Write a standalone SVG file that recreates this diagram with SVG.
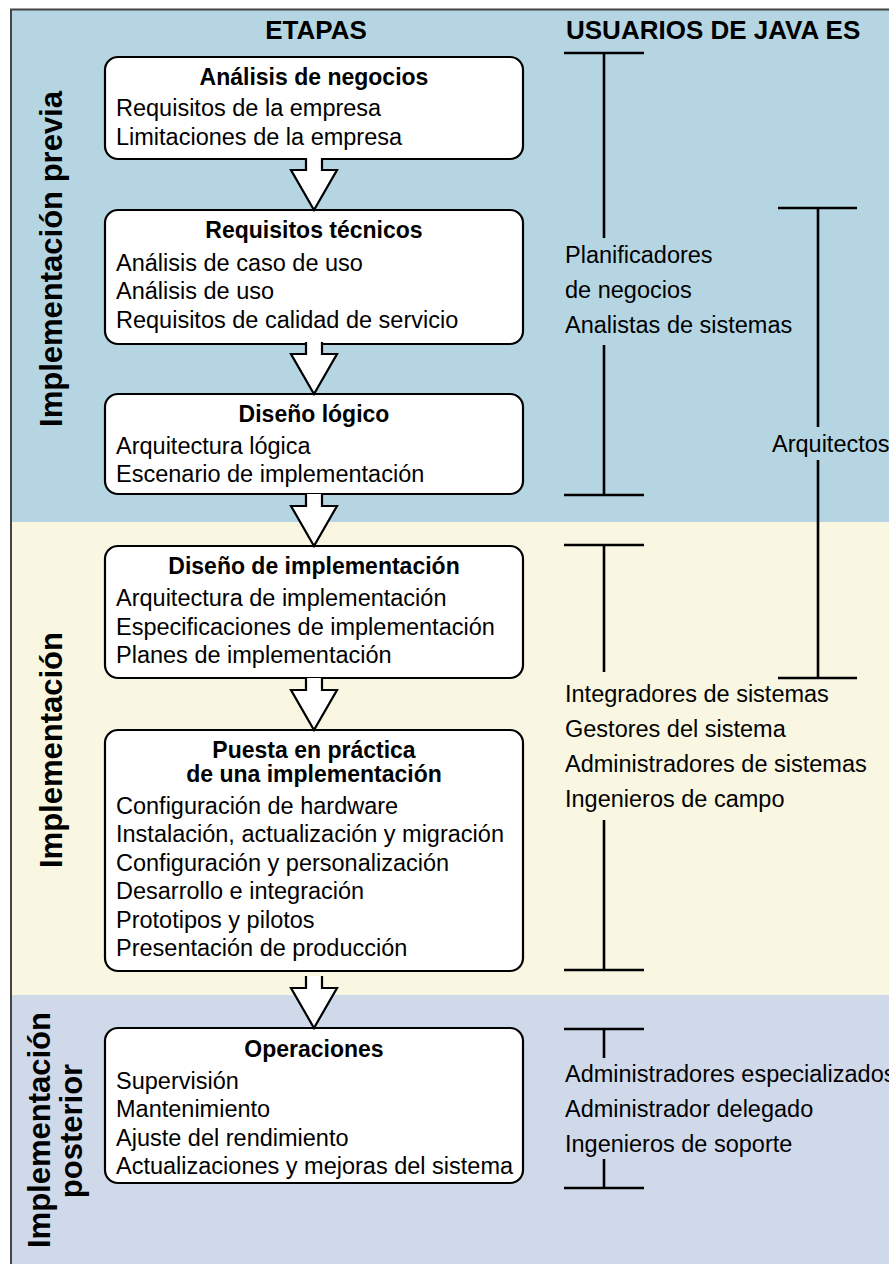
<svg xmlns="http://www.w3.org/2000/svg" width="889" height="1264" viewBox="0 0 889 1264">
  <style>
    text { font-family: "Liberation Sans", Arial, Helvetica, sans-serif; fill: #000; }
    .hdr { font-size: 26px; font-weight: bold; }
    .phase { font-size: 31px; font-weight: bold; text-anchor: middle; }
    .title { font-size: 23px; font-weight: bold; text-anchor: middle; }
    .item { font-size: 23.5px; }
    .role { font-size: 23.5px; }
    .box { fill: #fff; stroke: #000; stroke-width: 2.2; }
    .arrow { fill: #fff; stroke: #000; stroke-width: 2.2; stroke-linejoin: miter; }
    .bar { stroke: #000; stroke-width: 2.6; fill: none; }
  </style>
  <defs>
    <!-- hollow block arrow between stages, tip at (0,0) -->
    <path id="step" d="M-8,-52 L-8,-40 L-23,-40 L0,0 L23,-40 L8,-40 L8,-52"/>
  </defs>

  <!-- background bands -->
  <g id="bands">
    <rect x="0" y="0" width="889" height="1264" fill="#ffffff"/>
    <rect x="11" y="10" width="878" height="512" fill="#b5d5e2"/>
    <rect x="11" y="522" width="878" height="473" fill="#f9f6e1"/>
    <rect x="11" y="995" width="878" height="269" fill="#d0d9ea"/>
    <path d="M11,1264 L11,9.5 L889,9.5" fill="none" stroke="#444" stroke-width="2"/>
  </g>

  <!-- column headings -->
  <g id="headings">
    <text class="hdr" x="316" y="39" text-anchor="middle">ETAPAS</text>
    <text class="hdr" x="566" y="39">USUARIOS DE JAVA ES</text>
  </g>

  <!-- phase labels -->
  <g id="phase-labels">
    <text class="phase" transform="translate(62,259) rotate(-90)">Implementación previa</text>
    <text class="phase" transform="translate(62,750) rotate(-90)">Implementación</text>
    <text class="phase" transform="translate(50,1130) rotate(-90)">Implementación</text>
    <text class="phase" transform="translate(82,1131) rotate(-90)">posterior</text>
  </g>

  <!-- stage boxes -->
  <g id="analisis-negocios">
    <rect class="box" x="105" y="57" width="418" height="102" rx="13"/>
    <text class="title" x="314" y="85">Análisis de negocios</text>
    <text class="item" x="116" y="116">Requisitos de la empresa</text>
    <text class="item" x="116" y="145">Limitaciones de la empresa</text>
  </g>

  <g id="requisitos-tecnicos">
    <rect class="box" x="105" y="210" width="418" height="134" rx="13"/>
    <text class="title" x="314" y="238">Requisitos técnicos</text>
    <text class="item" x="116" y="271">Análisis de caso de uso</text>
    <text class="item" x="116" y="299">Análisis de uso</text>
    <text class="item" x="116" y="328">Requisitos de calidad de servicio</text>
  </g>

  <g id="diseno-logico">
    <rect class="box" x="105" y="394" width="418" height="100" rx="13"/>
    <text class="title" x="314" y="422">Diseño lógico</text>
    <text class="item" x="116" y="454">Arquitectura lógica</text>
    <text class="item" x="116" y="482">Escenario de implementación</text>
  </g>

  <g id="diseno-implementacion">
    <rect class="box" x="105" y="546" width="418" height="132" rx="13"/>
    <text class="title" x="314" y="574">Diseño de implementación</text>
    <text class="item" x="116" y="606">Arquitectura de implementación</text>
    <text class="item" x="116" y="635">Especificaciones de implementación</text>
    <text class="item" x="116" y="663">Planes de implementación</text>
  </g>

  <g id="puesta-en-practica">
    <rect class="box" x="105" y="730" width="418" height="241" rx="13"/>
    <text class="title" x="314" y="758">Puesta en práctica</text>
    <text class="title" x="314" y="782">de una implementación</text>
    <text class="item" x="116" y="814">Configuración de hardware</text>
    <text class="item" x="116" y="842">Instalación, actualización y migración</text>
    <text class="item" x="116" y="871">Configuración y personalización</text>
    <text class="item" x="116" y="899">Desarrollo e integración</text>
    <text class="item" x="116" y="928">Prototipos y pilotos</text>
    <text class="item" x="116" y="956">Presentación de producción</text>
  </g>

  <g id="operaciones">
    <rect class="box" x="105" y="1028" width="418" height="155" rx="13"/>
    <text class="title" x="314" y="1057">Operaciones</text>
    <text class="item" x="116" y="1089">Supervisión</text>
    <text class="item" x="116" y="1117">Mantenimiento</text>
    <text class="item" x="116" y="1146">Ajuste del rendimiento</text>
    <text class="item" x="116" y="1174">Actualizaciones y mejoras del sistema</text>
  </g>

  <!-- arrows between stages -->
  <g id="connectors">
    <use href="#step" class="arrow" x="314" y="210"/>
    <use href="#step" class="arrow" x="314" y="394"/>
    <use href="#step" class="arrow" x="314" y="546"/>
    <use href="#step" class="arrow" x="314" y="730"/>
    <use href="#step" class="arrow" x="314" y="1028"/>
  </g>

  <!-- user role ranges -->
  <g id="roles-planificacion">
    <path class="bar" d="M564,53 H644 M604,53 V238 M604,345 V495 M564,495 H644"/>
    <text class="role" x="565" y="263">Planificadores</text>
    <text class="role" x="565" y="298">de negocios</text>
    <text class="role" x="565" y="333">Analistas de sistemas</text>
  </g>

  <g id="roles-arquitectos">
    <path class="bar" d="M818,208 V427 M818,460 V678 M778,208 H857 M778,678 H857"/>
    <text class="role" x="772" y="452">Arquitectos</text>
  </g>

  <g id="roles-integracion">
    <path class="bar" d="M564,545 H644 M604,545 V672 M604,820 V970 M564,970 H644"/>
    <text class="role" x="565" y="702">Integradores de sistemas</text>
    <text class="role" x="565" y="737">Gestores del sistema</text>
    <text class="role" x="565" y="772">Administradores de sistemas</text>
    <text class="role" x="565" y="807">Ingenieros de campo</text>
  </g>

  <g id="roles-operacion">
    <path class="bar" d="M564,1029 H644 M604,1029 V1058 M604,1159 V1188 M564,1188 H644"/>
    <text class="role" x="565" y="1082">Administradores especializados</text>
    <text class="role" x="565" y="1117">Administrador delegado</text>
    <text class="role" x="565" y="1152">Ingenieros de soporte</text>
  </g>
</svg>
